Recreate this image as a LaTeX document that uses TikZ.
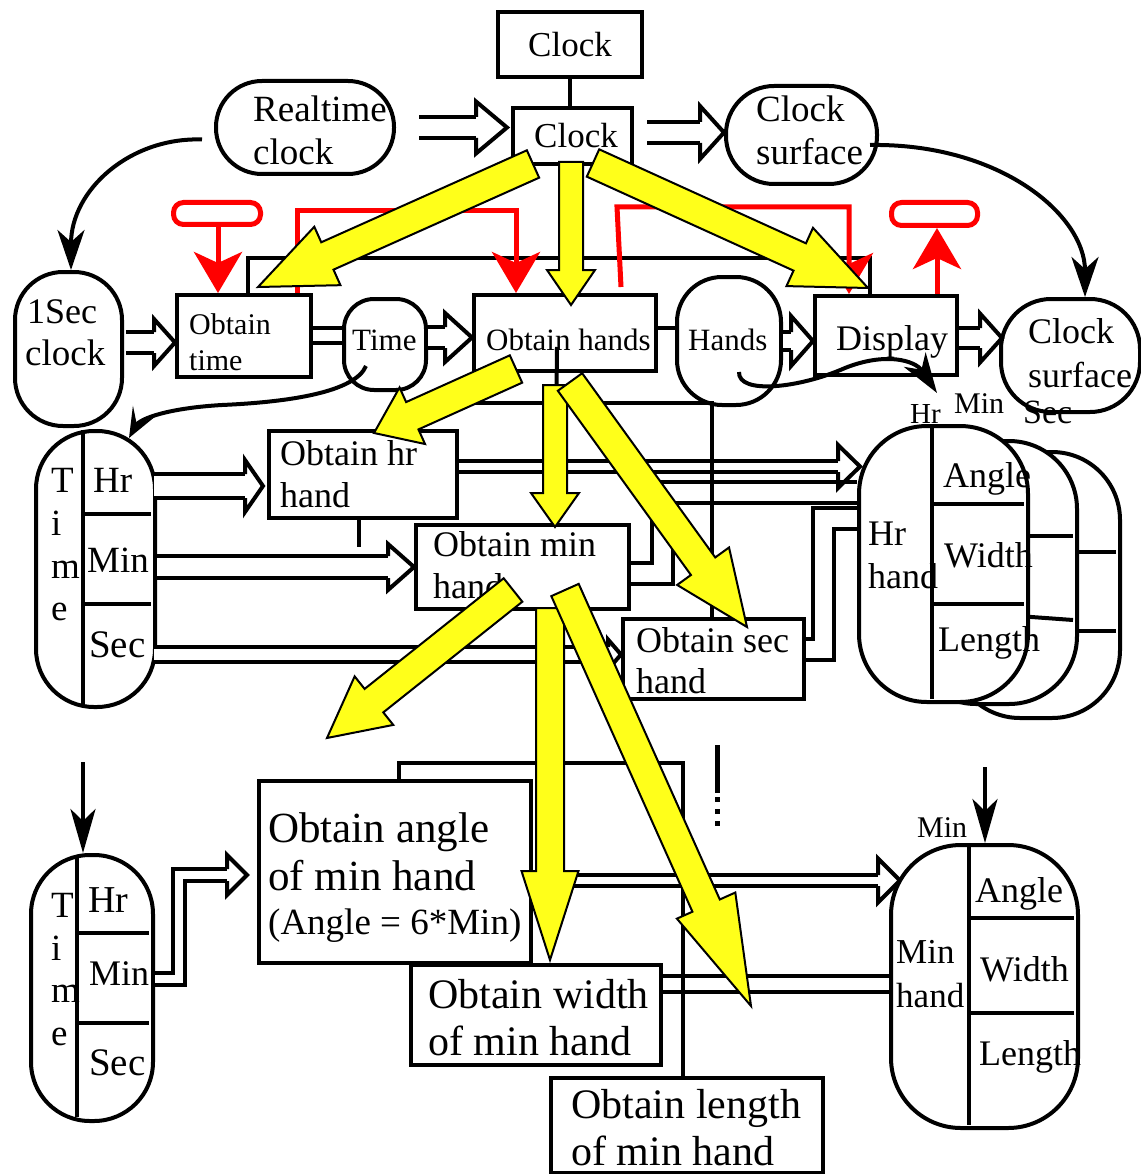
\documentclass[tikz,border=0pt]{standalone}
\usepackage{fontspec}
\setmainfont{Liberation Serif}
\usetikzlibrary{arrows.meta,calc}
\definecolor{hiyel}{RGB}{255,255,26}
\newcommand\fs[1]{\fontsize{#1pt}{#1pt}\selectfont}
% hollow double-line arrow: #1 path, #2 tip, #3 inner gap, #4 head half width, #5 head length
\newcommand\hollowarrow[5]{%
  \draw[conn, double=white, double distance=#3pt, shorten >=#5pt] #1;
  \draw[conn, line join=miter]
    ($#2+(-#5,{-#3/2-2})$) -- ($#2+(-#5,-#4)$) -- #2
    -- ($#2+(-#5,#4)$) -- ($#2+(-#5,{#3/2+2})$);
}
% flat yellow block arrow: #1 tail, #2 tip, #3 shaft half width, #4 head half width, #5 head length
\newcommand\blockarrow[5]{%
  \coordinate (ba-h) at ($#2!#5pt!#1$);
  \filldraw[yel] ($#1!#3pt!90:#2$) -- ($(ba-h)!#3pt!-90:#1$)
     -- ($(ba-h)!#4pt!-90:#1$) -- #2 -- ($(ba-h)!#4pt!90:#1$)
     -- ($(ba-h)!#3pt!90:#1$) -- ($#1!#3pt!-90:#2$) -- cycle;
}
\begin{document}
\begin{tikzpicture}[x=1pt,y=-1pt,
  conn/.style={line width=4pt, draw=black},
  box/.style={draw=black, line width=4pt, fill=white, rectangle, inner sep=0pt, anchor=north west},
  pill/.style={box, rounded corners=#1},
  txt/.style={inner sep=0pt, anchor=base west, font=\fs{36}},
  redline/.style={draw=red, line width=5pt},
  redloop/.style={draw=red, line width=5pt, rectangle, rounded corners=10pt, inner sep=0pt, anchor=north west},
  yel/.style={fill=hiyel, draw=black, line width=2pt, line join=miter},
  bigtip/.style={-{Stealth[length=40pt,width=27pt,inset=12pt]}},
  downtip/.style={-{Stealth[length=44pt,width=25pt,inset=12pt]}},
  smalltip/.style={-{Stealth[length=30pt,width=24pt,inset=14pt]}},
  redtip/.style={-{Stealth[length=41pt,width=48pt,inset=11pt]}},
]
\useasboundingbox (0,0) rectangle (1140,1174);
\fill[white] (0,0) rectangle (1140,1174);

% ---------- processes and stores ----------
\node[box, minimum width=144pt, minimum height=65pt] (clkA) at (496,10) {};
\node[box, minimum width=119pt, minimum height=56pt] (clkB) at (511,106) {};
\node[pill=46pt, minimum width=178pt, minimum height=93pt] (rt) at (214,79) {};
\node[pill=48pt, minimum width=151pt, minimum height=98pt] (csA) at (724,84) {};
\node[pill=48pt, minimum width=107pt, minimum height=154pt] (sec1) at (13,270) {};

\node[box, minimum width=134pt, minimum height=82pt] (otime) at (175,293) {};
\node[pill=30pt, minimum width=82pt, minimum height=91pt] (timep) at (342,297) {};
\node[box, minimum width=182pt, minimum height=76pt] (ohands) at (472,293) {};
\node[pill=45pt, minimum width=104pt, minimum height=128pt] (hands) at (675,275) {};
\node[box, minimum width=142pt, minimum height=79pt] (disp) at (813,294) {};
\node[pill=50pt, minimum width=139pt, minimum height=113pt] (csB) at (999,297) {};

% bracket from Obtain time to Display
\draw[conn] (otime.north -| 248,0) |- (870,258) -- (disp.north -| 870,0);

% Time store (hr / min / sec)
\node[pill=58pt, minimum width=119pt, minimum height=276pt] (tp1) at (34,429) {};
\draw[conn] (83,430) -- (83,704);
\draw[conn] (83,514) -- (151,514);
\draw[conn] (83,604) -- (151,604);

\node[box, minimum width=188pt, minimum height=87pt] (ohr) at (267,429) {};
\node[box, minimum width=213pt, minimum height=84pt] (omin) at (414,523) {};
\node[box, minimum width=181pt, minimum height=80pt] (osec) at (621,617) {};

% stacked hand stores (sec, min, hr)
\node[pill=68pt, minimum width=168pt, minimum height=266pt] (hrp3) at (950,450) {};
\draw[conn] (1030,552) -- (1116,552);
\draw[conn] (1030,631) -- (1116,631);
\node[pill=68pt, minimum width=169pt, minimum height=263pt] (hrp2) at (906,439) {};
\draw[conn] (990,536) -- (1073,536);
\draw[conn] (990,614) -- (1073,620);
\node[pill=68pt, minimum width=169pt, minimum height=276pt] (hrp) at (857,424) {};
\draw[conn] (932,425) -- (932,699);
\draw[conn] (932,504) -- (1024,504);
\draw[conn] (932,604) -- (1024,604);

% lower level
\node[pill=59pt, minimum width=122pt, minimum height=266pt] (tp2) at (29,853) {};
\draw[conn] (77,855) -- (77,1117);
\draw[conn] (77,933) -- (149,933);
\draw[conn] (77,1023) -- (149,1023);

\node[box, minimum width=272pt, minimum height=182pt] (oang) at (257,779) {};
\node[box, minimum width=250pt, minimum height=100pt] (owid) at (409,963) {};
\node[box, minimum width=272pt, minimum height=95pt] (olen) at (549,1076) {};

% ---------- data flows ----------
\draw[conn] (clkA.south -| 570,0) -- (clkB.north -| 570,0);
\draw[conn, double=white, double distance=11pt] (otime.east |- 0,335.5) -- (timep.west |- 0,335.5);
\draw[conn] (ohands.east |- 0,328) -- (hands.west |- 0,328);

\coordinate (h1s) at ($(rt.east |- 0,127.5)+(23,0)$);
\coordinate (h1e) at ($(clkB.west |- 0,127.5)+(-4,0)$);
\hollowarrow{(h1s) -- (h1e)}{(h1e)}{17}{26}{31}
\coordinate (h2s) at ($(clkB.east |- 0,132.5)+(13,0)$);
\coordinate (h2e) at (csA.west |- 0,132.5);
\hollowarrow{(h2s) -- (h2e)}{(h2e)}{17}{26.5}{24}
\coordinate (h3s) at ($(sec1.east |- 0,342.5)+(2,0)$);
\coordinate (h3e) at (otime.west |- 0,342.5);
\hollowarrow{(h3s) -- (h3e)}{(h3e)}{17}{23.5}{21}
\coordinate (h4s) at (timep.east |- 0,337.5);
\coordinate (h4e) at (ohands.west |- 0,337.5);
\hollowarrow{(h4s) -- (h4e)}{(h4e)}{17}{24.5}{27}
\coordinate (h5s) at (hands.east |- 0,341);
\coordinate (h5e) at (disp.west |- 0,341);
\hollowarrow{(h5s) -- (h5e)}{(h5e)}{14}{25}{22}
\coordinate (h6s) at (disp.east |- 0,338);
\coordinate (h6e) at ($(csB.west |- 0,338)+(3,0)$);
\hollowarrow{(h6s) -- (h6e)}{(h6e)}{16}{24.5}{22}
\coordinate (h7s) at ($(tp1.east |- 0,486)+(-3,0)$);
\coordinate (h7e) at ($(ohr.west |- 0,486)+(-4,0)$);
\hollowarrow{(h7s) -- (h7e)}{(h7e)}{20}{26}{18}
\coordinate (h8s) at (tp1.east |- 0,567);
\coordinate (h8e) at (omin.west |- 0,567);
\hollowarrow{(h8s) -- (h8e)}{(h8e)}{18}{23}{26}
\coordinate (h9s) at ($(tp1.east |- 0,654.5)+(-3,0)$);
\coordinate (h9e) at (osec.west |- 0,654.5);
\hollowarrow{(h9s) -- (h9e)}{(h9e)}{11}{15}{13}

\draw[conn, double=white, double distance=17pt] (omin.east |- 0,573.5) -| (662.5,492.5) -- (hrp.west |- 0,492.5);
\draw[conn, double=white, double distance=17pt] (osec.east |- 0,649.5) -| (823.5,518) -- (hrp.west |- 0,518);
\coordinate (h10s) at (ohr.east |- 0,466.5);
\coordinate (h10e) at ($(hrp.west |- 0,466.5)+(3,0)$);
\hollowarrow{(h10s) -- (h10e)}{(h10e)}{7}{21.5}{22}

\coordinate (h12s) at (tp2.east |- 0,979);
\coordinate (h12e) at ($(oang.west |- 0,875)+(-10,0)$);
\hollowarrow{(h12s) -| (178.5,875) -- (h12e)}{(h12e)}{8}{20}{20}
\coordinate (h11s) at (oang.east |- 0,880.5);
\coordinate (h11e) at (900,880.5);
\hollowarrow{(h11s) -- (h11e)}{(h11e)}{7}{22}{22}
\draw[conn, double=white, double distance=12pt] (owid.east |- 0,984) -- (889,984);

% single control lines drawn across the double flows
\draw[conn] ($(ohands.south)+(-8,-26)$) -- (omin.north -| 555,0);
\draw[conn] (ohr.south -| 359,0) -- ++(0,27);
\draw[conn] (ohands.south west) |- (712,403) -- (osec.north -| 712,0);
\draw[conn] (oang.north -| 399,0) |- (683,763) -- (olen.north -| 683,0);
\coordinate (dt) at (717,745);
\draw[conn, line width=5pt] (dt) -- ++(0,48);
\draw[conn, line width=5pt, dash pattern=on 5pt off 7pt] (717,797) -- (717,830);

% Min hand store
\node[pill=70pt, minimum width=187pt, minimum height=283pt] (mhp) at (889,843) {};
\draw[conn] (969,844) -- (969,1125);
\draw[conn] (969,918) -- (1074,918);
\draw[conn] (969,1013) -- (1074,1013);

% curved and vertical arrows
\draw[conn, bigtip] ($(rt.west)+(-12,12)$) .. controls (130,137) and (71,190) .. (sec1.north -| 71,0);
\draw[conn, bigtip] ($(csA.east)+(-9,10)$) .. controls (1000,143) and (1085,215) .. (csB.north -| 1085,0);
\coordinate (tpin) at ($(tp1.north)+(33.5,9)$);
\draw[conn, smalltip] ($(timep.south)+(-19,-26)$) .. controls (355,392) and (290,402) .. (222,405)
   .. controls (170,408) and (140,418) .. (tpin);
\coordinate (hms) at (937,393);
\draw[conn, -{Stealth[length=40pt,width=26pt,inset=12pt]}] ($(hands.center)+(10,31)$)
   .. controls (738,395) and (800,388) .. (845,368) .. controls (885,352) and (915,360) .. (hms);
\coordinate (dA) at (83,762);
\draw[conn, downtip] (dA) -- (tp2.north -| dA);
\coordinate (dB) at (985,767);
\draw[conn, downtip] (dB) -- (mhp.north -| dB);

% ---------- texts ----------
\node[txt, font=\fs{35}] (tc1) at (528,57) {Clock};
\node[txt, font=\fs{35}] (tc2) at (534,148) {Clock};
\node[txt, font=\fs{37}] (tr1) at (253,122) {Realtime};
\node[txt, font=\fs{37}] (tr2) at (253,165) {clock};
\node[txt, font=\fs{37}] (ts1) at (756,122) {Clock};
\node[txt, font=\fs{37}] (ts2) at (756,165) {surface};
\node[txt, font=\fs{36}] (t1s1) at (27,323) {1Sec};
\node[txt, font=\fs{37}] (t1s2) at (25,365) {clock};
\node[txt, font=\fs{30}] (tot1) at (189,334) {Obtain};
\node[txt, font=\fs{30}] (tot2) at (189,370) {time};
\node[txt, font=\fs{31}] (ttm) at (352,350) {Time};
\node[txt, font=\fs{31}] (toh) at (486,350) {Obtain hands};
\node[txt, font=\fs{31}] (thn) at (688,350) {Hands};
\node[txt, font=\fs{36}] (tds) at (836,350) {Display};
\node[txt, font=\fs{36}] (tcs1) at (1028,343) {Clock};
\node[txt, font=\fs{36}] (tcs2) at (1028,387) {surface};

\node[txt, font=\fs{37}] (tA1) at (51,492) {T};
\node[txt, font=\fs{37}] (tA2) at (51,535) {i};
\node[txt, font=\fs{37}] (tA3) at (51,578) {m};
\node[txt, font=\fs{37}] (tA4) at (51,620) {e};
\node[txt, font=\fs{37}] (tA5) at (93,492) {Hr};
\node[txt, font=\fs{37}] (tA6) at (87,572) {Min};
\node[txt, font=\fs{39}] (tA7) at (89,657) {Sec};

\node[txt] (thr1) at (280,465) {Obtain hr};
\node[txt] (thr2) at (280,507) {hand};
\node[txt] (tmn1) at (433,556) {Obtain min};
\node[txt] (tmn2) at (433,598) {hand};
\node[txt] (tsc1) at (636,652) {Obtain sec};
\node[txt] (tsc2) at (636,693) {hand};

\node[txt, font=\fs{29}] (lhr) at (910,423) {Hr};
\node[txt, font=\fs{30}] (lmn) at (954,413) {Min};
\node[txt, font=\fs{34}] (lsc) at (1023,423) {Sec};
\node[txt] (tH1) at (868,545) {Hr};
\node[txt] (tH2) at (868,588) {hand};
\node[txt] (tH3) at (943,487) {Angle};
\node[txt] (tH4) at (944,567) {Width};
\node[txt] (tH5) at (938,651) {Length};

\node[txt, font=\fs{37}] (tB1) at (51,917) {T};
\node[txt, font=\fs{37}] (tB2) at (51,960) {i};
\node[txt, font=\fs{37}] (tB3) at (51,1002) {m};
\node[txt, font=\fs{37}] (tB4) at (51,1045) {e};
\node[txt, font=\fs{38}] (tB5) at (88,912) {Hr};
\node[txt, font=\fs{36}] (tB6) at (89,985) {Min};
\node[txt, font=\fs{39}] (tB7) at (89,1075) {Sec};

\node[txt, font=\fs{43}] (tan1) at (268,842) {Obtain angle};
\node[txt, font=\fs{43}] (tan2) at (268,890) {of min hand};
\node[txt, font=\fs{37}] (tan3) at (268,934) {(Angle = 6*Min)};
\node[txt, font=\fs{42}] (twd1) at (428,1008) {Obtain width};
\node[txt, font=\fs{42}] (twd2) at (428,1055) {of min hand};
\node[txt, font=\fs{42}] (tln1) at (571,1118) {Obtain length};
\node[txt, font=\fs{42}] (tln2) at (571,1165) {of min hand};

\node[txt, font=\fs{30}] (lmin) at (917,837) {Min};
\node[txt, font=\fs{35}] (tM1) at (896,963) {Min};
\node[txt, font=\fs{35}] (tM2) at (896,1007) {hand};
\node[txt] (tM3) at (975,902) {Angle};
\node[txt] (tM4) at (980,981) {Width};
\node[txt] (tM5) at (979,1065) {Length};

% ---------- control flows (red) ----------
\node[redloop, minimum width=87pt, minimum height=22pt] (loopL) at (171,200) {};
\node[redloop, minimum width=86pt, minimum height=23pt] (loopR) at (889,200) {};
\draw[redline, redtip] (loopL.south -| 218,0) -- (otime.north -| 218,0);
\draw[redline, redtip] (otime.north -| 297,0) -- (297,211) -| (ohands.north -| 516,0);
\draw[redline, redtip] ($(ohands.north -| 621,0)+(0,-6)$) -- (617,207) -| (disp.north -| 849,0);
\draw[redline, redtip] (disp.north -| 937,0) -- (loopR.south -| 937,0);

% ---------- yellow invocation arrows ----------
\coordinate (y2a) at (571,162); \coordinate (y2b) at (571,305);
\blockarrow{(y2a)}{(y2b)}{12}{24}{35}
\coordinate (y1a) at (533,164); \coordinate (y1b) at (258,287);
\blockarrow{(y1a)}{(y1b)}{15}{32}{76}
\coordinate (y3a) at (593,163); \coordinate (y3b) at (868,288);
\blockarrow{(y3a)}{(y3b)}{15}{32}{75}
\coordinate (y5a) at (555,385); \coordinate (y5b) at (555,527);
\blockarrow{(y5a)}{(y5b)}{12}{24}{34}
\coordinate (y4a) at (516,369); \coordinate (y4b) at (374,433);
\blockarrow{(y4a)}{(y4b)}{15}{31}{42}
\coordinate (y6a) at (570,382); \coordinate (y6b) at (747,627);
\blockarrow{(y6a)}{(y6b)}{15}{32}{75}
\coordinate (y8a) at (550,608); \coordinate (y8b) at (550,960);
\blockarrow{(y8a)}{(y8b)}{14}{28.5}{89}
\coordinate (y7a) at (513,590); \coordinate (y7b) at (327,738);
\blockarrow{(y7a)}{(y7b)}{15}{31}{60}
\coordinate (y9a) at (565,590); \coordinate (y9b) at (751,1006);
\blockarrow{(y9a)}{(y9b)}{15}{32}{110}
\end{tikzpicture}
\end{document}
